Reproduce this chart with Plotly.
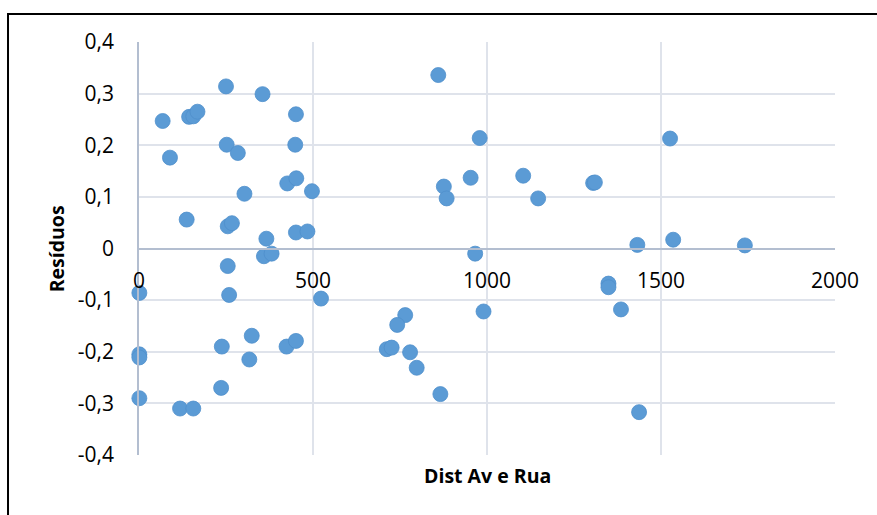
import plotly.graph_objects as go

# Data
dist = [68, 89, 144, 156, 168, 250, 355, 451, 252, 284, 449, 303, 426, 452, 497,
        137, 255, 267, 451, 484, 366, 359, 381, 255, 1, 259, 523, 324, 238, 424, 451,
        317, 1, 1, 236, 1, 118, 156,
        860, 979, 953, 1104, 876, 884, 1147, 966,
        990, 765, 742, 712, 726, 779, 798, 866,
        1305, 1310, 1526, 1432, 1535, 1741, 1349, 1349, 1385, 1437]
resid = [0.247, 0.176, 0.255, 0.256, 0.265, 0.314, 0.299, 0.260, 0.201, 0.185, 0.201, 0.106, 0.126, 0.136, 0.111,
         0.056, 0.043, 0.049, 0.031, 0.033, 0.019, -0.015, -0.010, -0.034, -0.086, -0.090, -0.097, -0.169, -0.190, -0.190, -0.179,
         -0.215, -0.205, -0.211, -0.270, -0.290, -0.310, -0.310,
         0.336, 0.214, 0.137, 0.141, 0.120, 0.097, 0.097, -0.010,
         -0.122, -0.129, -0.148, -0.195, -0.192, -0.201, -0.231, -0.282,
         0.127, 0.128, 0.213, 0.007, 0.017, 0.006, -0.068, -0.075, -0.118, -0.317]

x_ticks = [0, 500, 1000, 1500, 2000]
x_ticktext = ["0", "500", "1000", "1500", "2000"]
y_ticks = [-0.4, -0.3, -0.2, -0.1, 0, 0.1, 0.2, 0.3, 0.4]
y_ticktext = ["-0,4", "-0,3", "-0,2", "-0,1", "0", "0,1", "0,2", "0,3", "0,4"]
x_title = "Dist Av e Rua"
y_title = "Resíduos"

FONT = "Open Sans"
GRID = "#dfe3eb"
AXIS = "#b3bed0"

fig = go.Figure()
fig.add_trace(go.Scatter(
    x=dist, y=resid, mode="markers",
    marker=dict(size=15, color="#5b9bd5", line=dict(color="#4f8fcb", width=0.8)),
    showlegend=False, cliponaxis=False,
))

fig.update_layout(
    width=877, height=515,
    margin=dict(l=139, r=42, t=42, b=60),
    paper_bgcolor="white", plot_bgcolor="white",
    font=dict(family=FONT, size=21, color="#000000"),
    xaxis=dict(
        range=[0, 2000], tickvals=x_ticks, ticktext=x_ticktext,
        showgrid=True, gridcolor=GRID, gridwidth=1.5,
        zeroline=False, showline=True, linecolor=AXIS, linewidth=1.5,
        anchor="free", position=0.5, ticks="", ticklabelstandoff=14,
        tickfont=dict(family=FONT, size=21, color="#000000"),
    ),
    yaxis=dict(
        range=[-0.4, 0.4], tickvals=y_ticks, ticktext=y_ticktext,
        showgrid=True, gridcolor=GRID, gridwidth=1.5,
        zeroline=False, showline=True, linecolor=AXIS, linewidth=1.5,
        ticks="", ticklabelstandoff=19,
        tickfont=dict(family=FONT, size=21, color="#000000"),
    ),
    annotations=[
        dict(text="<b>" + x_title + "</b>", xref="paper", yref="paper",
             x=0.5, y=-0.012, xanchor="center", yanchor="top", showarrow=False,
             font=dict(family=FONT, size=19.5, color="#000000")),
        dict(text="<b>" + y_title + "</b>", xref="paper", yref="paper",
             x=-0.118, y=0.5, xanchor="center", yanchor="middle", textangle=-90,
             showarrow=False, font=dict(family=FONT, size=19.5, color="#000000")),
    ],
    shapes=[
        dict(type="rect", xref="paper", yref="paper",
             x0=-0.1882, x1=1.08, y0=-0.2, y1=1.0678,
             line=dict(color="#000000", width=2), layer="below"),
    ],
)

fig.write_html("out.html")
